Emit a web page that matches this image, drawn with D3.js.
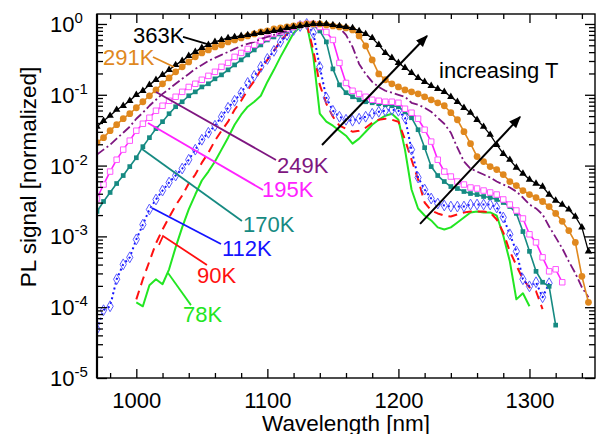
<!DOCTYPE html>
<html><head><meta charset="utf-8">
<script src="https://cdn.jsdelivr.net/npm/d3@7"></script>
<style>
body{margin:0;background:#fff}
svg{display:block}
text{font-family:"Liberation Sans",Arial,Helvetica,sans-serif;}
</style>
</head><body>
<svg id="chart" width="598" height="434"></svg>
<script>
// ---------------- data ----------------
const wavelength = [970,975,980,985,990,995,1000,1005,1010,1015,1020,1025,1030,1035,1040,1045,1050,1055,1060,1065,1070,1075,1080,1085,1090,1095,1100,1105,1110,1115,1120,1125,1130,1135,1140,1145,1150,1155,1160,1165,1170,1175,1180,1185,1190,1195,1200,1205,1210,1215,1220,1225,1230,1235,1240,1245,1250,1255,1260,1265,1270,1275,1280,1285,1290,1295,1300,1305,1310,1315,1320,1325,1330,1335,1340,1345];

const pl363K = [0.0354,0.0430,0.0506,0.0615,0.0700,0.0823,0.100,0.114,0.138,0.163,0.191,0.225,0.264,0.301,0.354,0.403,0.459,0.506,0.558,0.595,0.635,0.656,0.678,0.700,0.723,0.747,0.771,0.797,0.823,0.878,0.907,0.937,0.968,1.0,1.0,1.0,0.968,0.937,0.907,0.878,0.797,0.723,0.635,0.506,0.390,0.332,0.282,0.240,0.204,0.173,0.152,0.134,0.121,0.110,0.0937,0.0797,0.0656,0.0558,0.0444,0.0354,0.0273,0.0197,0.0147,0.0121,0.00937,0.00771,0.00635,0.00558,0.00506,0.00390,0.00321,0.00282,0.00240,0.00191,0.00134,0.000615];

const pl291K = [0.0211,0.0248,0.0311,0.0378,0.0459,0.0540,0.0656,0.0797,0.0968,0.117,0.143,0.173,0.211,0.248,0.291,0.343,0.390,0.430,0.474,0.506,0.558,0.595,0.635,0.678,0.723,0.771,0.797,0.850,0.878,0.907,0.937,0.968,1.0,1.0,1.0,0.968,0.937,0.907,0.878,0.823,0.678,0.490,0.311,0.197,0.163,0.143,0.129,0.117,0.110,0.103,0.0937,0.0850,0.0771,0.0700,0.0558,0.0444,0.0301,0.0204,0.0134,0.0114,0.00968,0.00878,0.00747,0.00595,0.00523,0.00444,0.00390,0.00354,0.00311,0.00264,0.00211,0.00163,0.00121,0.000823,0.000273,0.000117];

const pl249K = [0.0143,0.0168,0.0197,0.0240,0.0291,0.0354,0.0459,0.0558,0.0700,0.0850,0.103,0.121,0.143,0.168,0.197,0.232,0.264,0.301,0.332,0.366,0.403,0.444,0.490,0.523,0.558,0.615,0.656,0.700,0.747,0.797,0.878,0.937,1.0,1.0,0.968,0.968,0.937,0.878,0.700,0.474,0.273,0.197,0.152,0.129,0.114,0.107,0.100,0.0937,0.0771,0.0723,0.0656,0.0576,0.0474,0.0390,0.0291,0.0179,0.0114,0.00907,0.00823,0.00747,0.00678,0.00595,0.00540,0.00490,0.00430,0.00354,0.00282,0.00248,0.00204,0.00138,0.000968,0.000678,0.000444,0.000301,0.000191,0.000138];

const pl195K = [0.00343,0.00540,0.00823,0.0121,0.0168,0.0225,0.0311,0.0390,0.0474,0.0595,0.0700,0.0823,0.0937,0.110,0.129,0.143,0.163,0.185,0.211,0.248,0.282,0.343,0.390,0.444,0.506,0.576,0.635,0.723,0.771,0.850,0.907,0.968,1.0,1.0,0.907,0.771,0.595,0.282,0.147,0.114,0.103,0.0937,0.0850,0.0823,0.0797,0.0797,0.0771,0.0635,0.0558,0.0459,0.0321,0.0218,0.0121,0.00823,0.00700,0.00595,0.00540,0.00490,0.00474,0.00444,0.00417,0.00390,0.00332,0.00282,0.00232,0.00179,0.00107,0.000823,0.000506,0.000321,0.000343,0.000225,null,null,null,null];

const pl170K = [0.00225,0.00311,0.00417,0.00558,0.00723,0.00968,0.0129,0.0185,0.0248,0.0332,0.0417,0.0540,0.0678,0.0797,0.0968,0.110,0.129,0.143,0.168,0.191,0.225,0.264,0.311,0.366,0.430,0.506,0.595,0.656,0.723,0.797,0.878,0.937,1.0,0.968,0.797,0.558,0.232,0.138,0.107,0.0937,0.0850,0.0797,0.0771,0.0747,0.0723,0.0700,0.0678,0.0576,0.0474,0.0321,0.0179,0.00968,0.00723,0.00595,0.00506,0.00474,0.00430,0.00403,0.00390,0.00366,0.00354,0.00332,0.00301,0.00264,0.00211,0.00117,0.000615,0.000321,0.000225,0.000197,0.0000558,null,null,null,null,null];

const pl112K = [0.0000490,0.0000907,0.000103,0.000248,0.000403,0.000506,0.000907,0.00147,0.00240,0.00332,0.00444,0.00576,0.00723,0.00907,0.0121,0.0168,0.0232,0.0291,0.0366,0.0490,0.0656,0.0823,0.107,0.147,0.185,0.248,0.321,0.417,0.558,0.700,0.823,0.937,1.0,0.747,0.248,0.0907,0.0595,0.0490,0.0444,0.0430,0.0459,0.0490,0.0540,0.0576,0.0595,0.0615,0.0595,0.0474,0.0168,0.00678,0.00459,0.00343,0.00291,0.00273,0.00264,0.00264,0.00264,0.00282,0.00282,0.00282,0.00282,0.00256,0.00185,0.00107,0.000615,0.000248,0.000197,0.000225,0.000138,0.000218,null,null,null,null,null,null];

const pl90K = [null,null,null,null,null,null,0.000129,0.000248,0.000444,0.000797,0.00125,0.00185,0.00273,0.00378,0.00558,0.00747,0.0110,0.0152,0.0225,0.0311,0.0417,0.0615,0.0823,0.117,0.157,0.225,0.311,0.417,0.576,0.723,0.878,0.968,1.0,0.430,0.138,0.0747,0.0490,0.0366,0.0332,0.0301,0.0311,0.0343,0.0403,0.0444,0.0459,0.0444,0.0417,0.0232,0.0121,0.00635,0.00301,0.00232,0.00211,0.00197,0.00191,0.00204,0.00218,0.00225,0.00225,0.00225,0.00218,0.00173,0.00114,0.000615,0.000390,0.000248,0.000191,0.000168,0.0000937,null,null,null,null,null,null,null];

const pl78K = [null,null,null,null,null,null,0.000117,0.000103,0.000204,0.000248,0.000211,0.000343,0.000700,0.00134,0.00240,0.00390,0.00615,0.00823,0.0114,0.0168,0.0248,0.0378,0.0523,0.0678,0.0797,0.0968,0.152,0.225,0.343,0.506,0.747,0.907,1.0,0.354,0.0540,0.0417,0.0366,0.0311,0.0264,0.0204,0.0240,0.0301,0.0378,0.0444,0.0506,0.0540,0.0444,0.0168,0.00459,0.00248,0.00197,0.00168,0.00134,0.00125,0.00134,0.00157,0.00185,0.00218,0.00225,0.00218,0.00218,0.00197,0.00103,0.000444,0.000129,0.000157,0.000103,null,null,null,null,null,null,null,null,null];

const temperatures = ["78K","90K","112K","170K","195K","249K","291K","363K"];
const xTicks = [1000,1100,1200,1300];
const yTickExponents = ["0","-1","-2","-3","-4","-5"];

// ---------------- layout / style ----------------
const styles = {
  "78K":  {values: pl78K,  color:"#22e622", width:2,   dash:null,      marker:null},
  "90K":  {values: pl90K,  color:"#ff1010", width:2,   dash:"9,6",     marker:null},
  "112K": {values: pl112K, color:"#1414ff", width:2,   dash:"2,3",     marker:"diamond", mColor:"#5a5aff"},
  "170K": {values: pl170K, color:"#168a82", width:1.6, dash:null,      marker:"squareFilled"},
  "195K": {values: pl195K, color:"#ff22ff", width:1.6, dash:null,      marker:"squareOpen", mColor:"#ff55ff"},
  "249K": {values: pl249K, color:"#7e1680", width:1.8, dash:"9,3,2,3", marker:null},
  "291K": {values: pl291K, color:"#e0881e", width:1.6, dash:null,      marker:"circle"},
  "363K": {values: pl363K, color:"#000000", width:1.3, dash:null,      marker:"triangle"}
};

// annotation positions in data coordinates [wavelength, signal]
const annot = {
  "363K": {text:[997.5,0.539], line:[[1035.6,0.655],[1056.2,0.505]]},
  "291K": {text:[974.6,0.264], line:[[1012.7,0.342],[1028.8,0.247]]},
  "249K": {text:[1107.4,0.00786], line:[[1015.0,0.1096],[1106.6,0.0120]]},
  "195K": {text:[1095.9,0.00360], line:[[1008.9,0.0400],[1096.7,0.00452]]},
  "170K": {text:[1081.4,0.00115], line:[[1004.3,0.01715],[1080.6,0.00165]]},
  "112K": {text:[1065.4,0.000528], line:[[1012.0,0.00252],[1064.6,0.000781]]},
  "90K":  {text:[1046.3,0.000220], line:[[1017.3,0.000756],[1020.4,0.001014],[1053.9,0.000394]]},
  "78K":  {text:[1035.6,0.0000618], line:[[1024.2,0.000304],[1041.7,0.000107]]}
};
const arrows = [[[1141.7,0.0195],[1221.8,0.677]], [[1216.5,0.00150],[1292.8,0.0486]]];
const arrowText = {text:"increasing T", pos:[1231.0,0.1726]};

const L=97, R=595, T=14, B=378;
const FS = 22;

const svg = d3.select("#chart");
const x = d3.scaleLinear().domain([970,1350]).range([L,R]);
const y = d3.scaleLog().domain([1e-5,1.383]).range([B,T]);

svg.append("defs").append("clipPath").attr("id","clip")
  .append("rect").attr("x",L).attr("y",T).attr("width",R-L).attr("height",B-T);
const marker = svg.append("defs").append("marker").attr("id","ah")
  .attr("viewBox","0 0 10 10").attr("refX",9).attr("refY",5)
  .attr("markerWidth",12).attr("markerHeight",12).attr("markerUnits","userSpaceOnUse")
  .attr("orient","auto");
marker.append("path").attr("d","M0,1 L10,5 L0,9 Z").attr("fill","#000");

const plot = svg.append("g").attr("clip-path","url(#clip)");
const line = d3.line().x(d=>x(d.w)).y(d=>y(d.v));

temperatures.forEach(t=>{
  const s = styles[t];
  const data = wavelength.map((w,i)=>({w, v:s.values[i]})).filter(d=>d.v!=null);
  plot.append("path").datum(data).attr("d",line)
    .attr("fill","none").attr("stroke",s.color).attr("stroke-width",s.width)
    .attr("stroke-dasharray",s.dash).attr("stroke-linejoin","round");
  if(!s.marker) return;
  const g = plot.append("g");
  const pts = g.selectAll("path").data(data).enter().append("path")
    .attr("transform",d=>`translate(${x(d.w)},${y(d.v)})`);
  if(s.marker==="triangle") pts.attr("d",d3.symbol(d3.symbolTriangle,24)()).attr("fill",s.color);
  if(s.marker==="circle") pts.attr("d",d3.symbol(d3.symbolCircle,36)()).attr("fill",s.color);
  if(s.marker==="squareFilled") pts.attr("d",d3.symbol(d3.symbolSquare,22)()).attr("fill",s.color);
  if(s.marker==="squareOpen") pts.attr("d",d3.symbol(d3.symbolSquare,30)()).attr("fill","#fff").attr("stroke",s.mColor).attr("stroke-width",1);
  if(s.marker==="diamond") pts.attr("d",d3.symbol(d3.symbolDiamond,34)()).attr("fill","none").attr("stroke",s.mColor).attr("stroke-width",1);
});

// annotations
temperatures.forEach(t=>{
  const a = annot[t], c = styles[t].color;
  svg.append("path").datum(a.line).attr("d",d3.line().x(d=>x(d[0])).y(d=>y(d[1])))
    .attr("fill","none").attr("stroke",c).attr("stroke-width",1.8);
  svg.append("text").attr("x",x(a.text[0])).attr("y",y(a.text[1]))
    .attr("font-size",FS).attr("fill",c).text(t);
});
arrows.forEach(a=>{
  svg.append("line").attr("x1",x(a[0][0])).attr("y1",y(a[0][1]))
    .attr("x2",x(a[1][0])).attr("y2",y(a[1][1]))
    .attr("stroke","#000").attr("stroke-width",2).attr("marker-end","url(#ah)");
});
svg.append("text").attr("x",x(arrowText.pos[0])).attr("y",y(arrowText.pos[1]))
  .attr("font-size",FS).attr("fill","#000").text(arrowText.text);

// axes
const xMinor = d3.range(980,1350,20).filter(v=>v%100!==0);
const yMinor = [];
for(let e=-5;e<=0;e++) for(let m=2;m<=9;m++){const v=m*Math.pow(10,e); if(v<1.383) yMinor.push(v);}
const yMajor = yTickExponents.map(e=>Math.pow(10,+e));

function styleAxis(g){ g.select(".domain").remove(); g.selectAll("line").attr("stroke","#000").attr("stroke-width",1.3); }

svg.append("g").attr("transform",`translate(0,${B})`)
  .call(d3.axisBottom(x).tickValues(xTicks).tickSize(-9).tickPadding(14).tickFormat(d3.format("d")))
  .call(styleAxis)
  .call(g=>g.selectAll("text").attr("font-size",FS).attr("fill","#000").attr("font-family","Liberation Sans, Arial, sans-serif"));
svg.append("g").attr("transform",`translate(0,${B})`)
  .call(d3.axisBottom(x).tickValues(xMinor).tickSize(-5).tickFormat("")).call(styleAxis);
svg.append("g").attr("transform",`translate(0,${T})`)
  .call(d3.axisTop(x).tickValues(xTicks).tickSize(-9).tickFormat("")).call(styleAxis);
svg.append("g").attr("transform",`translate(0,${T})`)
  .call(d3.axisTop(x).tickValues(xMinor).tickSize(-5).tickFormat("")).call(styleAxis);

svg.append("g").attr("transform",`translate(${L},0)`)
  .call(d3.axisLeft(y).tickValues(yMajor).tickSize(-10).tickFormat("")).call(styleAxis);
svg.append("g").attr("transform",`translate(${L},0)`)
  .call(d3.axisLeft(y).tickValues(yMinor).tickSize(-6).tickFormat("")).call(styleAxis);
svg.append("g").attr("transform",`translate(${R},0)`)
  .call(d3.axisRight(y).tickValues(yMajor).tickSize(-10).tickFormat("")).call(styleAxis);
svg.append("g").attr("transform",`translate(${R},0)`)
  .call(d3.axisRight(y).tickValues(yMinor).tickSize(-6).tickFormat("")).call(styleAxis);

// y tick labels 10^n
yTickExponents.forEach(e=>{
  const t = svg.append("text").attr("x",50).attr("y",y(Math.pow(10,+e))+8)
    .attr("font-size",FS).attr("fill","#000");
  t.append("tspan").text("10");
  t.append("tspan").attr("dy",-9).attr("font-size",15).text(e);
});

// frame
svg.append("rect").attr("x",L).attr("y",T).attr("width",R-L).attr("height",B-T)
  .attr("fill","none").attr("stroke","#000").attr("stroke-width",1.4);
svg.append("line").attr("x1",L).attr("x2",L).attr("y1",T).attr("y2",B).attr("stroke","#000").attr("stroke-width",2.2);

// axis titles
svg.append("text").attr("x",(L+R)/2).attr("y",431).attr("text-anchor","middle")
  .attr("font-size",FS+0.5).attr("fill","#000").text("Wavelength [nm]");
svg.append("text").attr("transform","translate(36,177) rotate(-90)").attr("text-anchor","middle")
  .attr("font-size",FS+0.5).attr("fill","#000").text("PL signal [normalized]");
</script>
</body></html>
